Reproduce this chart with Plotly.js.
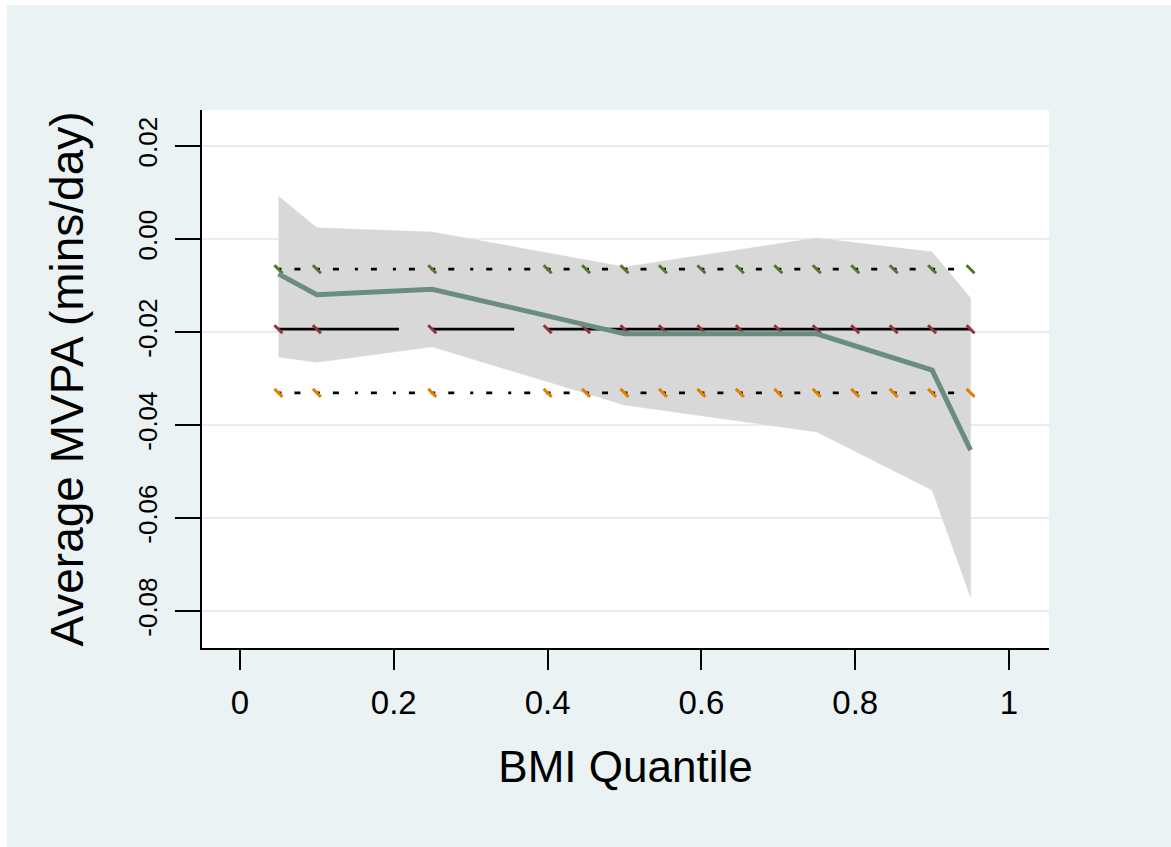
<!DOCTYPE html>
<html>
<head>
<meta charset="utf-8">
<script src="https://cdn.plot.ly/plotly-3.0.1.min.js"></script>
<style>
  html, body { margin: 0; padding: 0; background: #ffffff; }
  #chart { position: absolute; left: 7px; top: 5px; width: 1164px; height: 842px; }
</style>
</head>
<body>
<div id="chart"></div>
<script>
// Quantile regression estimates (BMI quantiles)
const quantiles = [0.05, 0.1, 0.25, 0.5, 0.75, 0.9, 0.95];
const coef      = [-0.0075, -0.0120, -0.0108, -0.0204, -0.0204, -0.0282, -0.0454];
const ciUpper   = [0.0092, 0.0024, 0.0015, -0.0060, 0.0002, -0.0028, -0.0127];
const ciLower   = [-0.0254, -0.0265, -0.0232, -0.0357, -0.0415, -0.0540, -0.0770];

// OLS estimate and its confidence interval, drawn at these quantile points
const olsPoints = [0.05, 0.1, 0.25, 0.4, 0.45, 0.5, 0.55, 0.6, 0.65, 0.7, 0.75, 0.8, 0.85, 0.9, 0.95];
const olsCoef   = -0.0194;
const olsUpper  = -0.0065;
const olsLower  = -0.0331;

// Axis ticks
const xTicks = [0, 0.2, 0.4, 0.6, 0.8, 1];
const xTickLabels = ['0', '0.2', '0.4', '0.6', '0.8', '1'];
const yTicks = [-0.08, -0.06, -0.04, -0.02, 0.00, 0.02];
const yTickLabels = yTicks.map(v => v.toFixed(2));

// Build segment-wise line (dash pattern restarts at each point, as in the original)
function segmented(xs, val) {
  const x = [], y = [];
  for (let i = 0; i < xs.length - 1; i++) {
    x.push(xs[i], xs[i + 1], null);
    y.push(val, val, null);
  }
  return {x, y};
}

const traces = [];

// confidence band
traces.push({
  x: quantiles.concat(quantiles.slice().reverse()),
  y: ciUpper.concat(ciLower.slice().reverse()),
  type: 'scatter', mode: 'lines', fill: 'toself',
  fillcolor: '#d8d8d8', line: {color: '#d8d8d8', width: 0.5},
  hoverinfo: 'skip'
});

const ciDash = '3px,13px,6px,16px';
const lineDefs = [
  {val: olsUpper, dash: ciDash, mcol: '#55752f'},
  {val: olsCoef,  dash: '82px,42px', mcol: '#90353b'},
  {val: olsLower, dash: ciDash, mcol: '#e37e00'}
];
lineDefs.forEach(d => {
  const s = segmented(olsPoints, d.val);
  traces.push({
    x: s.x, y: s.y, type: 'scatter', mode: 'lines', connectgaps: false,
    line: {color: '#000000', width: 2.8, dash: d.dash}, hoverinfo: 'skip'
  });
});
lineDefs.forEach(d => {
  traces.push({
    x: olsPoints, y: olsPoints.map(() => d.val), type: 'scatter', mode: 'markers',
    marker: {symbol: 'line-nw', size: 8, color: d.mcol, line: {color: d.mcol, width: 3}},
    hoverinfo: 'skip'
  });
});

// main quantile estimate
traces.push({
  x: quantiles, y: coef, type: 'scatter', mode: 'lines',
  line: {color: '#6a8d80', width: 5}
});

const font = 'Arial, "Liberation Sans", sans-serif';
const layout = {
  width: 1164, height: 842,
  paper_bgcolor: '#eaf2f3', plot_bgcolor: '#ffffff',
  margin: {l: 195, r: 122, t: 105, b: 199, pad: 0},
  showlegend: false,
  font: {family: font, color: '#000000'},
  xaxis: {
    range: [-0.0494, 1.052],
    tickvals: xTicks, ticktext: xTickLabels,
    ticks: 'outside', ticklen: 20, tickwidth: 2, tickcolor: '#000000',
    showline: true, linecolor: '#000000', linewidth: 2,
    showgrid: false, zeroline: false,
    tickfont: {size: 33, color: '#000000', family: font},
    ticklabelstandoff: 4,
    title: {text: 'BMI Quantile', font: {size: 44, color: '#000000', family: font}, standoff: 32}
  },
  yaxis: {
    range: [-0.08796, 0.02774],
    tickvals: yTicks, ticktext: yTickLabels,
    ticks: 'outside', ticklen: 25, tickwidth: 2, tickcolor: '#000000',
    tickangle: -90,
    showline: true, linecolor: '#000000', linewidth: 2,
    showgrid: true, gridcolor: '#e4eef1', gridwidth: 2.5, zeroline: false,
    tickfont: {size: 26, color: '#000000', family: font},
    ticklabelstandoff: 8,
    title: {text: 'Average MVPA (mins/day)', font: {size: 46, color: '#000000', family: font}, standoff: 34}
  }
};

Plotly.newPlot('chart', traces, layout, {displayModeBar: false, staticPlot: true});
</script>
</body>
</html>
